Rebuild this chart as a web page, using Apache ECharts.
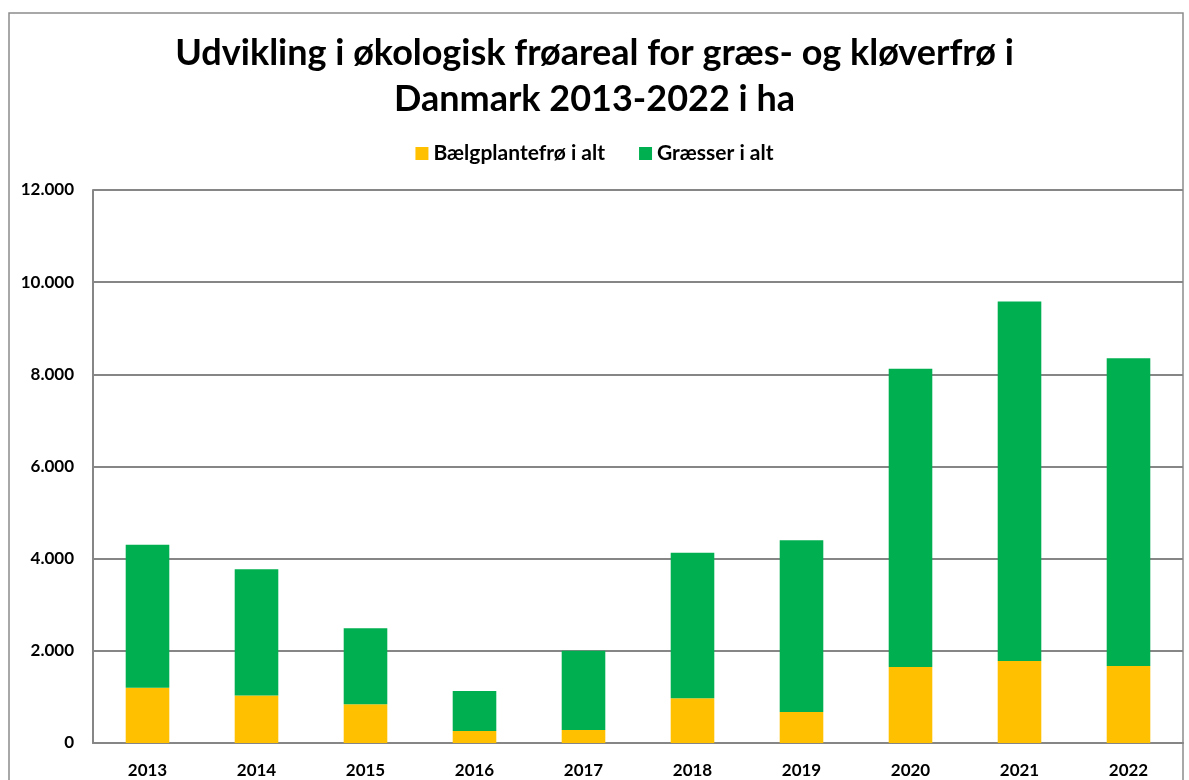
<!DOCTYPE html>
<html>
<head>
<meta charset="utf-8">
<script src="https://cdn.jsdelivr.net/npm/echarts@6/dist/echarts.min.js"></script>
<style>
  html, body { margin: 0; padding: 0; background: #fff; }
  #chart { width: 1189px; height: 780px; }
</style>
</head>
<body>
<div id="chart"></div>
<script>
// Data
const years = ['2013', '2014', '2015', '2016', '2017', '2018', '2019', '2020', '2021', '2022'];
const baelgplante = [1200, 1030, 840, 260, 280, 970, 670, 1650, 1780, 1670];
const graesser = [3100, 2740, 1650, 870, 1720, 3160, 3730, 6470, 7800, 6680];
const seriesNames = ['Bælgplantefrø i alt', 'Græsser i alt'];
const yTicks = { min: 0, max: 12000, interval: 2000 };

const font = 'Lato';
const fmt = v => v === 0 ? '0' : String(v).replace(/\B(?=(\d{3})+(?!\d))/g, '.');

const chart = echarts.init(document.getElementById('chart'));
chart.setOption({
  animation: false,
  title: {
    text: 'Udvikling i økologisk frøareal for græs- og kløverfrø i\nDanmark 2013-2022 i ha',
    left: 'center',
    top: 25,
    textStyle: { fontFamily: font, fontWeight: 'bold', fontSize: 36, lineHeight: 46, color: '#000' }
  },
  legend: {
    top: 138,
    left: 'center',
    itemWidth: 13,
    itemHeight: 13,
    itemGap: 34,
    icon: 'rect',
    textStyle: { fontFamily: font, fontWeight: 'bold', fontSize: 21, color: '#000' },
    data: seriesNames
  },
  grid: { left: 93, right: 6, top: 190, bottom: 37, containLabel: false },
  xAxis: {
    type: 'category',
    data: years,
    axisLine: { lineStyle: { color: '#868686', width: 2 } },
    axisTick: { show: false },
    axisLabel: { fontFamily: font, fontWeight: 'bold', fontSize: 17, color: '#000', margin: 19 }
  },
  yAxis: {
    type: 'value',
    min: yTicks.min,
    max: yTicks.max,
    interval: yTicks.interval,
    axisLine: { show: true, lineStyle: { color: '#868686', width: 2 } },
    axisTick: { show: false },
    splitLine: { lineStyle: { color: '#868686', width: 2 } },
    axisLabel: { fontFamily: font, fontWeight: 'bold', fontSize: 17, color: '#000', margin: 19, formatter: fmt }
  },
  graphic: [{
    type: 'rect',
    shape: { x: 9, y: 13, width: 1174, height: 800 },
    style: { fill: 'none', stroke: '#8c8c8c', lineWidth: 1.5 },
    silent: true
  }],
  series: [
    {
      name: seriesNames[0], type: 'bar', stack: 'total', data: baelgplante,
      barWidth: '40%', itemStyle: { color: '#FFC000' }
    },
    {
      name: seriesNames[1], type: 'bar', stack: 'total', data: graesser,
      barWidth: '40%', itemStyle: { color: '#00B050' }
    }
  ]
});
</script>
</body>
</html>
